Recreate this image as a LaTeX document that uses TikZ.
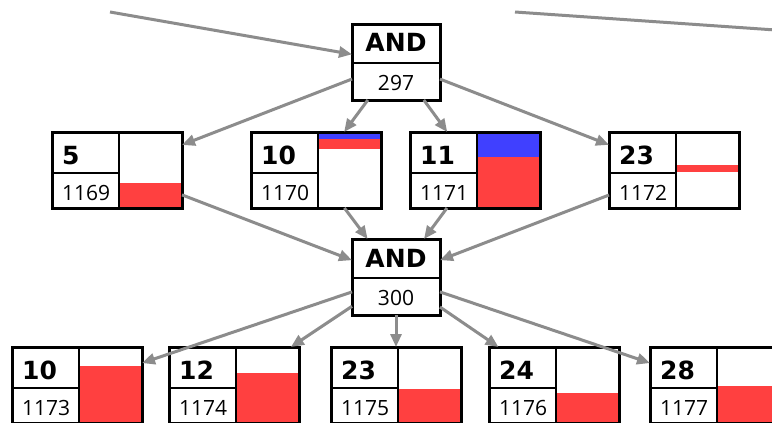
\documentclass[tikz,border=0pt]{standalone}
\usepackage{fontspec}
\setmainfont{Open Sans}
\newfontfamily\fuenteetiq{DejaVu Sans}
\usetikzlibrary{calc,arrows.meta}
\definecolor{GrisFlecha}{HTML}{8C8C8C}
\definecolor{RojoBarra}{HTML}{FF4040}
\definecolor{AzulBarra}{HTML}{4040FF}
\tikzset{
  caja/.style={draw=black, fill=white, line width=3pt, outer sep=0pt, inner sep=0pt,
               minimum width=130pt, minimum height=76pt},
  cajay/.style={caja, minimum width=88pt},
  etiq/.style={font=\fuenteetiq\bfseries\fontsize{25pt}{27pt}\selectfont, inner sep=0pt},
  num/.style={font=\fontsize{21pt}{23pt}\selectfont, inner sep=0pt},
  divisor/.style={line width=1.5pt, black},
  gris/.style={line width=3pt, color=GrisFlecha},
  flecha/.style={gris, -{Triangle[length=13pt,width=11pt]}},
}
% caja de objeto: nombre, posicion, etiqueta, numero, barras (desde/hasta/color)
\newcommand{\cajaobj}[5]{%
  \node[caja] (#1) at (#2) {};
  \foreach \ya/\yb/\cc in {#5} {
    \fill[fill=\cc] ($(#1.north)+(2,\ya)$) rectangle ($(#1.north east)+(0,\yb)$);
  }
  \draw[divisor] ($(#1.west)+(0,3)$) -- ($(#1.center)+(2,3)$);
  \draw[divisor] ($(#1.north)+(2,0)$) -- ($(#1.south)+(2,0)$);
  \draw[line width=3pt] (#1.south west) rectangle (#1.north east);
  \node[etiq, anchor=base west] (#1-e) at ($(#1.west)+(10,-6)$) {#3};
  \node[num, anchor=base west] (#1-n) at ($(#1.west)+(10,30)$) {#4};
}
% nodo AND: nombre, posicion, numero
\newcommand{\nodoy}[3]{%
  \node[cajay] (#1) at (#2) {};
  \draw[divisor] ($(#1.west)+(0,1)$) -- ($(#1.east)+(0,1)$);
  \node[etiq, anchor=base] (#1-e) at ($(#1.center)+(0,-10)$) {AND};
  \node[num, anchor=base] (#1-n) at ($(#1.center)+(0,28)$) {#3};
}
\begin{document}
\begin{tikzpicture}[x=1pt, y=-1pt]
  \useasboundingbox (0,0) rectangle (772,423);
  \fill[white] (0,0) rectangle (772,423);

  \nodoy{y1}{396,62}{297}
  \nodoy{y2}{396,277}{300}

  \cajaobj{b5}{117,170}{5}{1169}{51/76/RojoBarra}
  \cajaobj{b10}{316,170}{10}{1170}{0/7/AzulBarra, 7/17/RojoBarra}
  \cajaobj{b11}{475,170}{11}{1171}{0/25/AzulBarra, 25/76/RojoBarra}
  \cajaobj{b23}{674,170}{23}{1172}{33/40/RojoBarra}

  \cajaobj{c10}{77,385}{10}{1173}{19/76/RojoBarra}
  \cajaobj{c12}{234,385}{12}{1174}{26/76/RojoBarra}
  \cajaobj{c23}{396,385}{23}{1175}{42/76/RojoBarra}
  \cajaobj{c24}{554,385}{24}{1176}{46/76/RojoBarra}
  \cajaobj{c28}{715,385}{28}{1177}{39/76/RojoBarra}

  % aristas que vienen de fuera
  \coordinate (p0) at (110,12);
  \coordinate (p1) at (515,12);
  \coordinate (p2) at (790,31);
  \draw[flecha] (p0) -- (y1);
  \draw[gris] (p1) -- (p2);

  \foreach \h in {b5,b10,b11,b23} \draw[flecha] (y1) -- (\h);
  \foreach \h in {b5,b10,b11,b23} \draw[flecha] (\h) -- (y2);
  \foreach \h in {c10,c12,c23,c24,c28} \draw[flecha] (y2) -- (\h);
\end{tikzpicture}
\end{document}
